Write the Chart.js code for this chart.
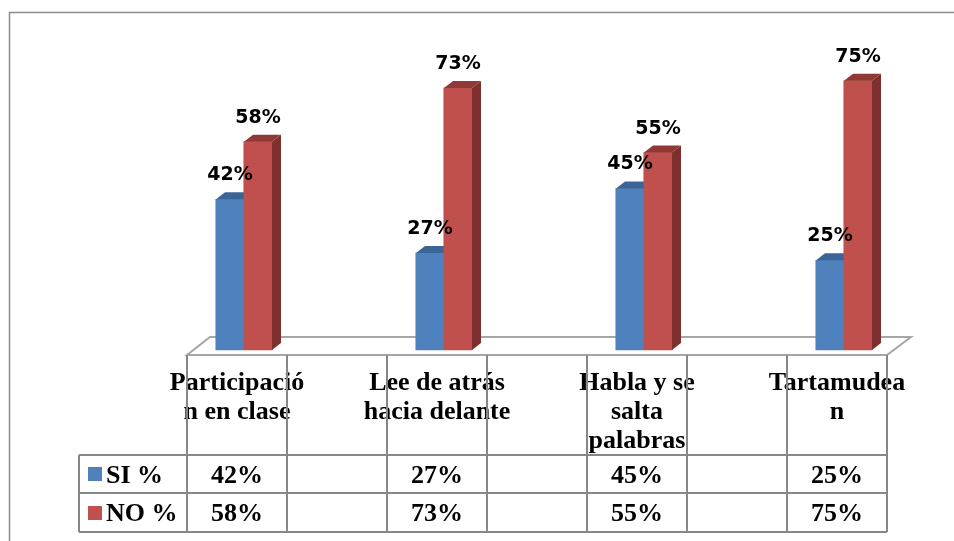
<!DOCTYPE html>
<html>
<head>
<meta charset="utf-8">
<script src="https://cdn.jsdelivr.net/npm/chart.js@4.4.1/dist/chart.umd.min.js"></script>
<style>
  html, body { margin: 0; padding: 0; background: #fff; }
  #wrap { width: 954px; height: 541px; position: relative; }
</style>
</head>
<body>
<div id="wrap"><canvas id="myChart"></canvas></div>
<script>
var categories = [["Participació", "n en clase"], ["Lee de atrás", "hacia delante"], ["Habla y se", "salta", "palabras"], ["Tartamudea", "n"]];
var siValues = [42, 27, 45, 25];
var noValues = [58, 73, 55, 75];
var seriesNames = ["SI %", "NO %"];

var colors = {
    si: { front: "#4F81BD", side: "#385D8A", top: "#3C6597" },
    no: { front: "#C0504D", side: "#7E302E", top: "#8F3835" }
};
var dx = 9, dy = 7;          // 3D depth offset of the bars
var gridColor = "#878787";

function pct(v) { return v + "%"; }

var threeD = {
    id: "threeD",
    beforeDatasetsDraw: function (chart) {
        var ctx = chart.ctx;
        var x = chart.scales.x, y = chart.scales.y;
        var colW = (x.getPixelForValue(1) - x.getPixelForValue(0)) / 2;
        var left = x.getPixelForValue(0) - 57;
        var right = left + colW * (categories.length * 2 - 1);
        var front = y.getPixelForValue(0) + 5;
        ctx.save();
        // outer frame
        ctx.strokeStyle = "#8c8c8c";
        ctx.lineWidth = 1.5;
        ctx.strokeRect(9.5, 12.5, 1000, 600);
        // floor
        ctx.strokeStyle = "#a6a6a6";
        ctx.lineWidth = 2;
        ctx.beginPath();
        ctx.moveTo(left, front);
        ctx.lineTo(right, front);
        ctx.lineTo(right + 24, front - 18);
        ctx.lineTo(left + 23, front - 18);
        ctx.closePath();
        ctx.stroke();
        ctx.restore();
    },
    afterDatasetsDraw: function (chart) {
        var ctx = chart.ctx;
        ctx.save();
        // redraw bars series by series so later series sit in front
        chart.data.datasets.forEach(function (ds, i) {
            var c = i === 0 ? colors.si : colors.no;
            chart.getDatasetMeta(i).data.forEach(function (bar) {
                bar.draw(ctx);
                var p = bar.getProps(["x", "y", "base", "width"], true);
                var l = p.x - p.width / 2, r = p.x + p.width / 2;
                ctx.fillStyle = c.side;
                ctx.beginPath();
                ctx.moveTo(r, p.y);
                ctx.lineTo(r + dx, p.y - dy);
                ctx.lineTo(r + dx, p.base - dy);
                ctx.lineTo(r, p.base);
                ctx.closePath();
                ctx.fill();
                ctx.fillStyle = c.top;
                ctx.beginPath();
                ctx.moveTo(l, p.y);
                ctx.lineTo(r, p.y);
                ctx.lineTo(r + dx, p.y - dy);
                ctx.lineTo(l + dx, p.y - dy);
                ctx.closePath();
                ctx.fill();
            });
        });
        ctx.fillStyle = "#000";
        ctx.font = "bold 19px 'DejaVu Sans'";
        ctx.textAlign = "center";
        ctx.textBaseline = "alphabetic";
        chart.data.datasets.forEach(function (ds, i) {
            chart.getDatasetMeta(i).data.forEach(function (bar, j) {
                ctx.fillText(pct(ds.data[j]), bar.x, bar.y - 19);
            });
        });
        ctx.restore();
    },
    afterDraw: function (chart) {
        var ctx = chart.ctx;
        var x = chart.scales.x, y = chart.scales.y;
        var colW = (x.getPixelForValue(1) - x.getPixelForValue(0)) / 2;
        var left = x.getPixelForValue(0) - 57;
        var nCols = categories.length * 2 - 1;
        var right = left + colW * nCols;
        var top = y.getPixelForValue(0) + 5;
        var row1 = 455, row2 = 493, row3 = 532, legLeft = 79;
        ctx.save();
        ctx.fillStyle = "#000";
        ctx.font = "bold 26px 'Liberation Serif'";
        ctx.textAlign = "center";
        ctx.textBaseline = "alphabetic";
        categories.forEach(function (lines, k) {
            var cx = left + colW * 2 * k + colW / 2;
            lines.forEach(function (t, li) {
                ctx.fillText(t, cx, 390 + li * 29);
            });
            ctx.fillText(pct(siValues[k]), cx, row1 + 28);
            ctx.fillText(pct(noValues[k]), cx, row2 + 28);
        });
        // legend keys
        ctx.textAlign = "left";
        ctx.fillStyle = colors.si.front;
        ctx.fillRect(88, 467, 14, 14);
        ctx.fillStyle = colors.no.front;
        ctx.fillRect(88, 506, 14, 14);
        ctx.fillStyle = "#000";
        ctx.fillText(seriesNames[0], 106, row1 + 28);
        ctx.fillText(seriesNames[1], 106, row2 + 28);
        // grid
        ctx.strokeStyle = gridColor;
        ctx.lineWidth = 2;
        ctx.beginPath();
        for (var k = 0; k <= nCols; k++) {
            var gx = left + colW * k;
            ctx.moveTo(gx, top);
            ctx.lineTo(gx, row3);
        }
        [row1, row2, row3].forEach(function (ry) {
            ctx.moveTo(legLeft, ry);
            ctx.lineTo(right, ry);
        });
        ctx.moveTo(legLeft, row1);
        ctx.lineTo(legLeft, row3);
        ctx.stroke();
        ctx.restore();
    }
};

new Chart(document.getElementById("myChart").getContext("2d"), {
    type: "bar",
    data: {
        labels: categories,
        datasets: [
            { label: seriesNames[0], data: siValues, backgroundColor: colors.si.front, barThickness: 28, borderWidth: 0 },
            { label: seriesNames[1], data: noValues, backgroundColor: colors.no.front, barThickness: 28, borderWidth: 0 }
        ]
    },
    options: {
        responsive: true,
        maintainAspectRatio: false,
        animation: false,
        layout: { padding: { left: 144, right: 10, top: 9, bottom: 191 } },
        plugins: {
            legend: { display: false },
            tooltip: { enabled: false }
        },
        scales: {
            x: { display: false },
            y: { display: false, min: 0, max: 95 }
        }
    },
    plugins: [threeD]
});
</script>
</body>
</html>
